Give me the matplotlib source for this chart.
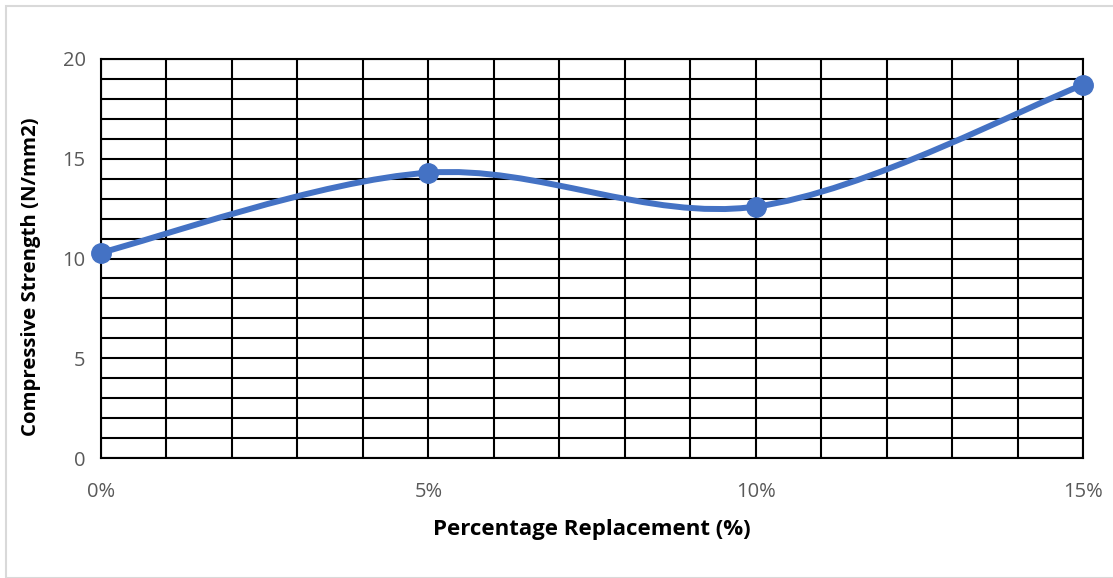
import matplotlib.pyplot as plt
import numpy as np
from matplotlib.path import Path
from matplotlib.patches import PathPatch, Rectangle

# replacement level (%) and compressive strength (N/mm2)
replacement = [0, 5, 10, 15]
strength = [10.3, 14.3, 12.6, 18.7]
x_ticks = [0, 5, 10, 15]
x_tick_labels = ['0%', '5%', '10%', '15%']
y_ticks = [0, 5, 10, 15, 20]

line_color = '#4472C4'
plt.rcParams['font.family'] = ['Open Sans', 'DejaVu Sans']


def smooth_path(xs, ys):
    """ Bezier curve through the points, spreadsheet-style smoothing """
    pts = np.column_stack([xs, ys]).astype(float)
    n = len(pts)
    verts = [pts[0]]
    codes = [Path.MOVETO]
    for i in range(n - 1):
        p0 = pts[i - 1] if i > 0 else pts[i]
        p1 = pts[i]
        p2 = pts[i + 1]
        p3 = pts[i + 2] if i + 2 < n else pts[i + 1]
        c1 = p1 + (p2 - p0) / 6.0
        c2 = p2 - (p3 - p1) / 6.0
        verts += [c1, c2, p2]
        codes += [Path.CURVE4] * 3
    return Path(verts, codes)


fig = plt.figure(figsize=(11.13, 5.78), dpi=100)
ax = fig.add_axes([101 / 1113, 1 - 458 / 578, 982 / 1113, 399 / 578])

# light frame round the chart
fig.patches.append(Rectangle((6 / 1113, 0), 1, 1 - 6 / 578, transform=fig.transFigure,
                             fill=False, edgecolor='#d9d9d9', linewidth=1.5))

ax.set_xlim(0, 15)
ax.set_ylim(0, 20)
ax.set_xticks(np.arange(0, 16, 1), minor=True)
ax.set_yticks(np.arange(0, 21, 1), minor=True)
ax.set_xticks(x_ticks)
ax.set_xticklabels(x_tick_labels)
ax.set_yticks(y_ticks)
ax.grid(which='both', color='black', linewidth=1.5)
ax.set_axisbelow(True)
for s in ax.spines.values():
    s.set_color('black')
    s.set_linewidth(1.5)
ax.tick_params(which='both', length=0)
ax.tick_params(axis='x', pad=17, labelsize=14.5, labelcolor='#595959')
ax.tick_params(axis='y', pad=11, labelsize=14.5, labelcolor='#595959')

patch = PathPatch(smooth_path(replacement, strength), facecolor='none',
                  edgecolor=line_color, linewidth=4.3, capstyle='round', zorder=3)
ax.add_patch(patch)
ax.plot(replacement, strength, 'o', color=line_color, ms=14, zorder=4, clip_on=False)

ax.set_xlabel('Percentage Replacement (%)', fontsize=16, fontweight='bold')
ax.set_ylabel('Compressive Strength (N/mm2)', fontsize=14.7, fontweight='bold')
ax.xaxis.set_label_coords(0.5, -0.153)
ax.yaxis.set_label_coords(-0.061, 0.455)

fig.savefig('out.png', dpi=100)
